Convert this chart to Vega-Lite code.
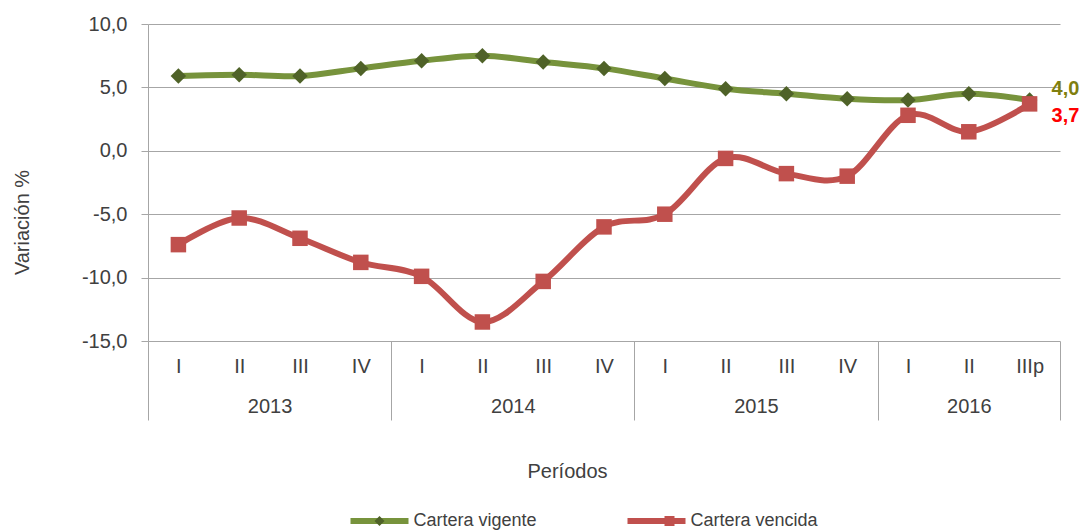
{
  "$schema": "https://vega.github.io/schema/vega-lite/v6.json",
  "width": 912,
  "height": 317,
  "autosize": {"type": "none"},
  "padding": {"left": 148, "top": 24, "right": 26, "bottom": 191},
  "config": {
    "font": "Liberation Sans",
    "view": {"stroke": null},
    "locale": {"number": {"decimal": ",", "thousands": ".", "grouping": [3], "currency": ["", ""], "minus": "-"}},
    "axis": {"labelFont": "Liberation Sans", "titleFont": "Liberation Sans", "labelColor": "#404040", "titleColor": "#404040", "titleFontWeight": "normal"},
    "legend": {"labelFont": "Liberation Sans"}
  },
  "data": {
    "values": [
      {"idx": 1, "anio": "2013", "trimestre": "I", "serie": "Cartera vigente", "serie_m": "Cartera vigente", "valor": 5.9},
      {"idx": 2, "anio": "2013", "trimestre": "II", "serie": "Cartera vigente", "serie_m": "Cartera vigente", "valor": 6.0},
      {"idx": 3, "anio": "2013", "trimestre": "III", "serie": "Cartera vigente", "serie_m": "Cartera vigente", "valor": 5.9},
      {"idx": 4, "anio": "2013", "trimestre": "IV", "serie": "Cartera vigente", "serie_m": "Cartera vigente", "valor": 6.5},
      {"idx": 5, "anio": "2014", "trimestre": "I", "serie": "Cartera vigente", "serie_m": "Cartera vigente", "valor": 7.1},
      {"idx": 6, "anio": "2014", "trimestre": "II", "serie": "Cartera vigente", "serie_m": "Cartera vigente", "valor": 7.5},
      {"idx": 7, "anio": "2014", "trimestre": "III", "serie": "Cartera vigente", "serie_m": "Cartera vigente", "valor": 7.0},
      {"idx": 8, "anio": "2014", "trimestre": "IV", "serie": "Cartera vigente", "serie_m": "Cartera vigente", "valor": 6.5},
      {"idx": 9, "anio": "2015", "trimestre": "I", "serie": "Cartera vigente", "serie_m": "Cartera vigente", "valor": 5.7},
      {"idx": 10, "anio": "2015", "trimestre": "II", "serie": "Cartera vigente", "serie_m": "Cartera vigente", "valor": 4.9},
      {"idx": 11, "anio": "2015", "trimestre": "III", "serie": "Cartera vigente", "serie_m": "Cartera vigente", "valor": 4.5},
      {"idx": 12, "anio": "2015", "trimestre": "IV", "serie": "Cartera vigente", "serie_m": "Cartera vigente", "valor": 4.1},
      {"idx": 13, "anio": "2016", "trimestre": "I", "serie": "Cartera vigente", "serie_m": "Cartera vigente", "valor": 4.0},
      {"idx": 14, "anio": "2016", "trimestre": "II", "serie": "Cartera vigente", "serie_m": "Cartera vigente", "valor": 4.5},
      {"idx": 15, "anio": "2016", "trimestre": "IIIp", "serie": "Cartera vigente", "serie_m": "Cartera vigente", "valor": 4.0},
      {"idx": 1, "anio": "2013", "trimestre": "I", "serie": "Cartera vencida", "serie_m": "Cartera vencida", "valor": -7.4},
      {"idx": 2, "anio": "2013", "trimestre": "II", "serie": "Cartera vencida", "serie_m": "Cartera vencida", "valor": -5.3},
      {"idx": 3, "anio": "2013", "trimestre": "III", "serie": "Cartera vencida", "serie_m": "Cartera vencida", "valor": -6.9},
      {"idx": 4, "anio": "2013", "trimestre": "IV", "serie": "Cartera vencida", "serie_m": "Cartera vencida", "valor": -8.8},
      {"idx": 5, "anio": "2014", "trimestre": "I", "serie": "Cartera vencida", "serie_m": "Cartera vencida", "valor": -9.9},
      {"idx": 6, "anio": "2014", "trimestre": "II", "serie": "Cartera vencida", "serie_m": "Cartera vencida", "valor": -13.5},
      {"idx": 7, "anio": "2014", "trimestre": "III", "serie": "Cartera vencida", "serie_m": "Cartera vencida", "valor": -10.3},
      {"idx": 8, "anio": "2014", "trimestre": "IV", "serie": "Cartera vencida", "serie_m": "Cartera vencida", "valor": -6.0},
      {"idx": 9, "anio": "2015", "trimestre": "I", "serie": "Cartera vencida", "serie_m": "Cartera vencida", "valor": -5.0},
      {"idx": 10, "anio": "2015", "trimestre": "II", "serie": "Cartera vencida", "serie_m": "Cartera vencida", "valor": -0.6},
      {"idx": 11, "anio": "2015", "trimestre": "III", "serie": "Cartera vencida", "serie_m": "Cartera vencida", "valor": -1.8},
      {"idx": 12, "anio": "2015", "trimestre": "IV", "serie": "Cartera vencida", "serie_m": "Cartera vencida", "valor": -2.0},
      {"idx": 13, "anio": "2016", "trimestre": "I", "serie": "Cartera vencida", "serie_m": "Cartera vencida", "valor": 2.8},
      {"idx": 14, "anio": "2016", "trimestre": "II", "serie": "Cartera vencida", "serie_m": "Cartera vencida", "valor": 1.5},
      {"idx": 15, "anio": "2016", "trimestre": "IIIp", "serie": "Cartera vencida", "serie_m": "Cartera vencida", "valor": 3.7}
    ]
  },
  "encoding": {
    "y": {
      "field": "valor", "type": "quantitative",
      "scale": {"domain": [-15, 10], "nice": false, "zero": false},
      "axis": {"values": [-15, -10, -5, 0, 5, 10], "format": ".1f", "title": "Variación %",
               "grid": true, "gridColor": "#a6a6a6", "gridWidth": 1, "domainColor": "#a6a6a6", "tickColor": "#a6a6a6",
               "tickSize": 7, "labelPadding": 14, "labelFontSize": 20, "titleFontSize": 20,
               "titleX": -116, "titleY": 198}
    }
  },
  "layer": [
    {
      "mark": {"type": "line", "interpolate": "cardinal", "strokeWidth": 6},
      "encoding": {
        "x": {
          "field": "idx", "type": "quantitative",
          "scale": {"domain": [0.5, 15.5], "nice": false, "zero": false},
          "axis": {"orient": "bottom", "values": [1, 2, 3, 4, 5, 6, 7, 8, 9, 10, 11, 12, 13, 14, 15],
                   "labelExpr": "['','I','II','III','IV','I','II','III','IV','I','II','III','IV','I','II','IIIp'][datum.value]",
                   "ticks": false, "domain": false, "grid": false, "labelPadding": 15, "labelFontSize": 20,
                   "labelFlush": false, "labelOverlap": false, "title": null}
        },
        "color": {
          "field": "serie", "type": "nominal", "sort": "descending",
          "scale": {"range": ["#77933c", "#c0504d"]},
          "legend": {"orient": "none", "legendX": 199.5, "legendY": 465, "direction": "horizontal", "title": null,
                     "symbolType": "stroke", "symbolSize": 3364, "symbolStrokeWidth": 6, "labelFontSize": 18,
                     "labelColor": "#404040", "labelOffset": 2, "columnPadding": 78, "padding": 0}
        }
      }
    },
    {
      "mark": {"type": "point", "filled": true, "opacity": 1, "strokeWidth": 0, "size": 240},
      "encoding": {
        "x": {
          "field": "idx", "type": "quantitative",
          "axis": {"orient": "bottom", "values": [2.5, 6.5, 10.5, 14],
                   "labelExpr": "datum.value < 4 ? '2013' : datum.value < 8 ? '2014' : datum.value < 12 ? '2015' : '2016'",
                   "ticks": false, "domain": false, "grid": false, "labelPadding": 55, "labelFontSize": 20,
                   "labelFlush": false, "labelOverlap": false, "title": null}
        },
        "shape": {
          "field": "serie_m", "type": "nominal", "sort": "descending",
          "scale": {"range": ["diamond", "square"]},
          "legend": {"orient": "none", "legendX": 199.5, "legendY": 488, "direction": "horizontal", "title": null,
                     "symbolSize": 100, "symbolStrokeWidth": 0, "labelFontSize": 18, "labelExpr": "''",
                     "labelOffset": 0, "symbolOffset": 23, "columnPadding": 249, "padding": 0}
        },
        "fill": {
          "field": "serie_m", "type": "nominal", "sort": "descending",
          "scale": {"range": ["#4f6228", "#c0504d"]},
          "legend": {"orient": "none", "legendX": 199.5, "legendY": 488, "direction": "horizontal", "title": null,
                     "symbolSize": 100, "symbolStrokeWidth": 0, "labelFontSize": 18, "labelExpr": "''",
                     "labelOffset": 0, "symbolOffset": 23, "columnPadding": 249, "padding": 0}
        }
      }
    },
    {
      "transform": [{"filter": "datum.serie == 'Cartera vigente' && datum.idx == 15"}],
      "mark": {"type": "text", "align": "left", "baseline": "middle", "dx": 22, "dy": -11, "fontSize": 20, "fontWeight": "bold", "color": "#7f7f0f"},
      "encoding": {
        "x": {
          "field": "idx", "type": "quantitative",
          "axis": {"orient": "bottom", "values": [0.5, 4.5, 8.5, 12.5, 15.5], "ticks": true, "tickSize": 79,
                   "tickColor": "#a6a6a6", "labels": false, "domain": false, "grid": false,
                   "title": "Períodos", "titleFontSize": 20, "titleX": 419, "titleY": 120, "titleBaseline": "top"}
        },
        "text": {"field": "valor", "type": "quantitative", "format": ".1f"}
      }
    },
    {
      "transform": [{"filter": "datum.serie == 'Cartera vencida' && datum.idx == 15"}],
      "mark": {"type": "text", "align": "left", "baseline": "middle", "dx": 22, "dy": 12.6, "fontSize": 20, "fontWeight": "bold", "color": "#ff0000"},
      "encoding": {
        "x": {"field": "idx", "type": "quantitative", "axis": null},
        "text": {"field": "valor", "type": "quantitative", "format": ".1f"}
      }
    }
  ],
  "resolve": {"axis": {"x": "independent"}}
}
